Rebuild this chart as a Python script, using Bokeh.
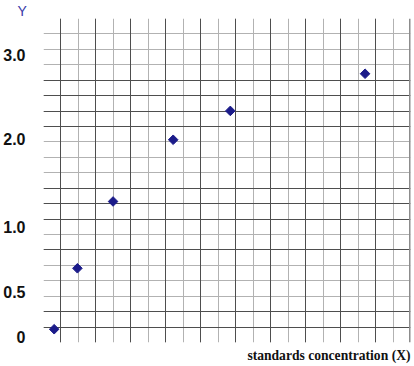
from bokeh.plotting import figure
from bokeh.models import Grid, FixedTicker, Range1d, Title, Span, ColumnDataSource
from bokeh.embed import file_html
from bokeh.resources import INLINE
import numpy as np

# data (in grid-cell units)
x_vals = [0.61, 1.94, 3.98, 7.42, 10.69, 18.40]
y_vals = [0.86, 4.81, 9.14, 13.14, 15.01, 17.42]

# tick labels on the Y axis and where they sit (grid-cell units)
ytick_labels = ["0", "0.5", "1.0", "2.0", "3.0"]
ytick_pos = [0.34, 3.29, 7.46, 13.16, 18.61]

n_cells = 21
vdark = [1, 3, 5, 7, 9, 11, 13, 15, 17, 19]
hdark = [0, 1, 2, 6, 8, 9, 10, 14, 15, 16, 17]

p = figure(width=414, height=366, x_range=Range1d(0, n_cells), y_range=Range1d(0, n_cells),
           output_backend="svg", toolbar_location=None,
           min_border_left=42, min_border_right=4, min_border_top=17, min_border_bottom=24)
p.outline_line_color = None
p.background_fill_color = "white"
p.border_fill_color = "white"
p.xgrid.visible = False
p.ygrid.visible = False
p.xaxis.visible = False

# Title "Y"
p.title.text = "Y"
p.title.text_color = "#3a3aa8"
p.title.text_font = "Liberation Sans"
p.title.text_font_style = "normal"
p.title.text_font_size = "14px"
p.title.align = "left"
p.title.offset = -26
p.title.standoff = 0

yax = p.yaxis[0]
yax.ticker = FixedTicker(ticks=ytick_pos)
yax.major_label_overrides = {pos: lab for pos, lab in zip(ytick_pos, ytick_labels)}
yax.axis_line_color = None
yax.major_tick_line_color = None
yax.minor_tick_line_color = None
yax.major_label_standoff = 12
yax.major_label_text_font = "Liberation Sans"
yax.major_label_text_font_style = "bold"
yax.major_label_text_font_size = "16px"
yax.major_label_text_color = "#111111"

all_lines = list(range(0, n_cells + 1))
light_col = "#b2b2b2"
dark_col = "#4e4e4e"
p.add_layout(Grid(dimension=0, ticker=FixedTicker(ticks=all_lines), grid_line_color=light_col, grid_line_width=1))
p.add_layout(Grid(dimension=1, ticker=FixedTicker(ticks=all_lines), grid_line_color=light_col, grid_line_width=1))
p.add_layout(Grid(dimension=0, ticker=FixedTicker(ticks=vdark), grid_line_color=dark_col, grid_line_width=1))
p.add_layout(Grid(dimension=1, ticker=FixedTicker(ticks=hdark), grid_line_color=dark_col, grid_line_width=1))
p.add_layout(Span(location=n_cells, dimension="height", line_color="#8c8c8c", line_width=3))

src = ColumnDataSource(dict(x=x_vals, y=y_vals))
p.scatter("x", "y", source=src, marker="square", angle=np.pi / 4, size=6.8,
          fill_color="#1b1b8a", line_color="#1b1b8a")

p.add_layout(Title(text="standards concentration (X)", align="right", text_font="Liberation Serif",
                   text_font_style="bold", text_font_size="13.6px", text_color="#111111",
                   standoff=7, offset=0), "below")

open("out.html", "w").write(file_html(p, INLINE))
